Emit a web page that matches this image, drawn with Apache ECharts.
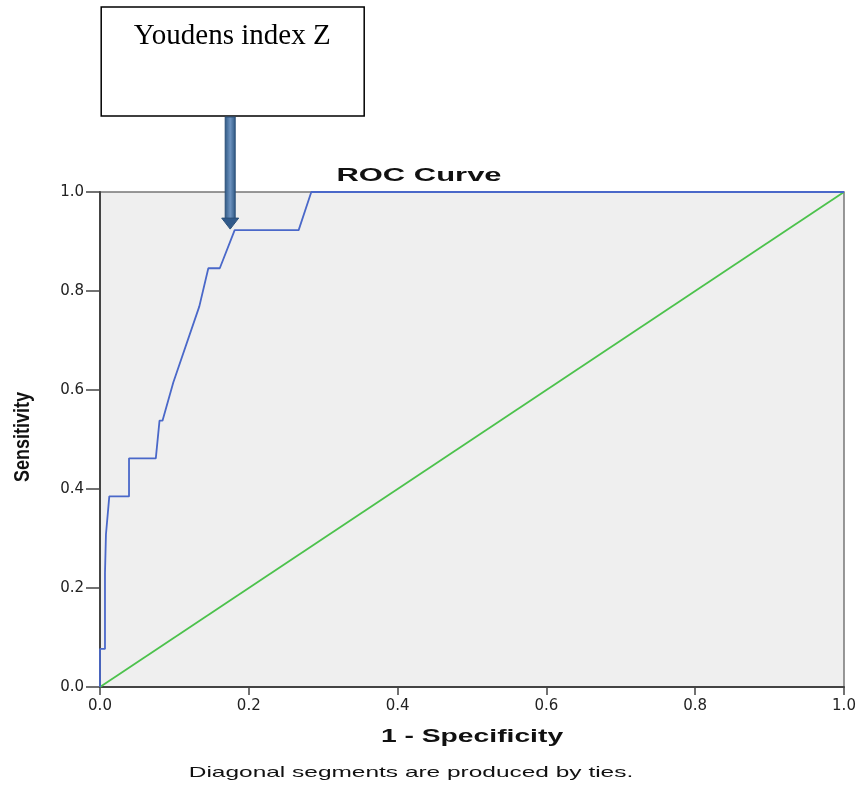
<!DOCTYPE html>
<html>
<head>
<meta charset="utf-8">
<script src="https://cdn.jsdelivr.net/npm/echarts@6/dist/echarts.min.js"></script>
<style>
html,body{margin:0;padding:0;background:#fff;}
#chart{width:861px;height:787px;}
</style>
</head>
<body>
<div id="chart"></div>
<script>
// ---- data ----
var rocFpr = [0, 0, 0.0067, 0.0067, 0.008, 0.008, 0.010, 0.0125, 0.039, 0.039, 0.075, 0.080, 0.084, 0.0985, 0.1335, 0.1456, 0.161, 0.181, 0.267, 0.284, 1.0];
var rocTpr = [0, 0.077, 0.077, 0.231, 0.231, 0.308, 0.308, 0.385, 0.385, 0.462, 0.462, 0.538, 0.538, 0.615, 0.769, 0.846, 0.846, 0.923, 0.923, 1.0, 1.0];
var refX = [0, 1];
var refY = [0, 1];
var tickValues = [0, 0.2, 0.4, 0.6, 0.8, 1.0];
var youdenPoint = [0.175, 0.923];
var titleText = 'ROC Curve';
var xName = '1 - Specificity';
var yName = 'Sensitivity';
var footText = 'Diagonal segments are produced by ties.';
var noteText = 'Youdens index Z';

function pairs(xs, ys){ return xs.map(function(x,i){ return [x, ys[i]]; }); }
function fmt(v){ return v.toFixed(1); }

var chart = echarts.init(document.getElementById('chart'), null, {renderer:'canvas'});

var option = {
  animation: false,
  backgroundColor: '#ffffff',
  grid: {left:100, right:17, top:192, bottom:100, show:true, backgroundColor:'#efefef', borderColor:'#777', borderWidth:1.5},
  xAxis: {
    type: 'value', min: tickValues[0], max: tickValues[tickValues.length-1], interval: 0.2,
    splitLine: {show:false},
    axisLine: {show:true, onZero:false, lineStyle:{color:'#444', width:2}},
    axisTick: {show:true, inside:false, length:8, lineStyle:{color:'#444', width:1.5}},
    axisLabel: {color:'#222', fontFamily:'DejaVu Sans', fontSize:15, margin:12, formatter: fmt}
  },
  yAxis: {
    type: 'value', min: tickValues[0], max: tickValues[tickValues.length-1], interval: 0.2,
    splitLine: {show:false},
    axisLine: {show:true, onZero:false, lineStyle:{color:'#444', width:2}},
    axisTick: {show:true, inside:false, length:14, lineStyle:{color:'#444', width:1.5}},
    axisLabel: {color:'#222', fontFamily:'DejaVu Sans', fontSize:15, margin:16, formatter: fmt}
  },
  series: [
    {type:'line', data: pairs(refX, refY), showSymbol:false, lineStyle:{color:'#4cc24c', width:1.8}, z:2},
    {type:'line', data: pairs(rocFpr, rocTpr), showSymbol:false, lineStyle:{color:'#4a68c9', width:1.8}, z:3}
  ]
};
chart.setOption(option);

var tip = chart.convertToPixel({gridIndex:0}, youdenPoint);
var cx = tip[0], ty = tip[1] - 1;
var boxTop = 7, boxH = 109, boxW = 263;

chart.setOption({
  graphic: [
    {type:'text', x:419, y:176, scaleX:1.72, scaleY:1, z:10,
     style:{text:titleText, font:'bold 18px "Liberation Sans"', fill:'#111', align:'center', verticalAlign:'middle'}},
    {type:'text', x:472, y:737, scaleX:1.57, scaleY:1, z:10,
     style:{text:xName, font:'bold 18px "Liberation Sans"', fill:'#111', align:'center', verticalAlign:'middle'}},
    {type:'text', x:23, y:437, rotation:Math.PI/2, scaleX:1, scaleY:1.25, z:10,
     style:{text:yName, font:'bold 18px "Liberation Sans"', fill:'#111', align:'center', verticalAlign:'middle'}},
    {type:'text', x:411, y:773, scaleX:1.63, scaleY:1, z:10,
     style:{text:footText, font:'15px "Liberation Sans"', fill:'#111', align:'center', verticalAlign:'middle'}},
    {type:'rect', z:10, shape:{x:cx - 129, y:boxTop, width:boxW, height:boxH},
     style:{fill:'#fff', stroke:'#000', lineWidth:1.5}},
    {type:'text', x:cx + 2, y:36, z:11,
     style:{text:noteText, font:'29px "Liberation Serif"', fill:'#000', align:'center', verticalAlign:'middle'}},
    {type:'rect', z:12, shape:{x:cx - 5, y:boxTop + boxH + 1, width:10, height:ty - 10 - (boxTop + boxH + 1)},
     style:{fill:new echarts.graphic.LinearGradient(0,0,1,0,[{offset:0,color:'#2c5580'},{offset:0.5,color:'#6d93c0'},{offset:1,color:'#2c5580'}]), stroke:'#2a4f78', lineWidth:1}},
    {type:'polygon', z:12, shape:{points:[[cx-8.5, ty-11],[cx+8.5, ty-11],[cx, ty]]},
     style:{fill:'#30598a', stroke:'#2a4f78', lineWidth:1}}
  ]
});
</script>
</body>
</html>
